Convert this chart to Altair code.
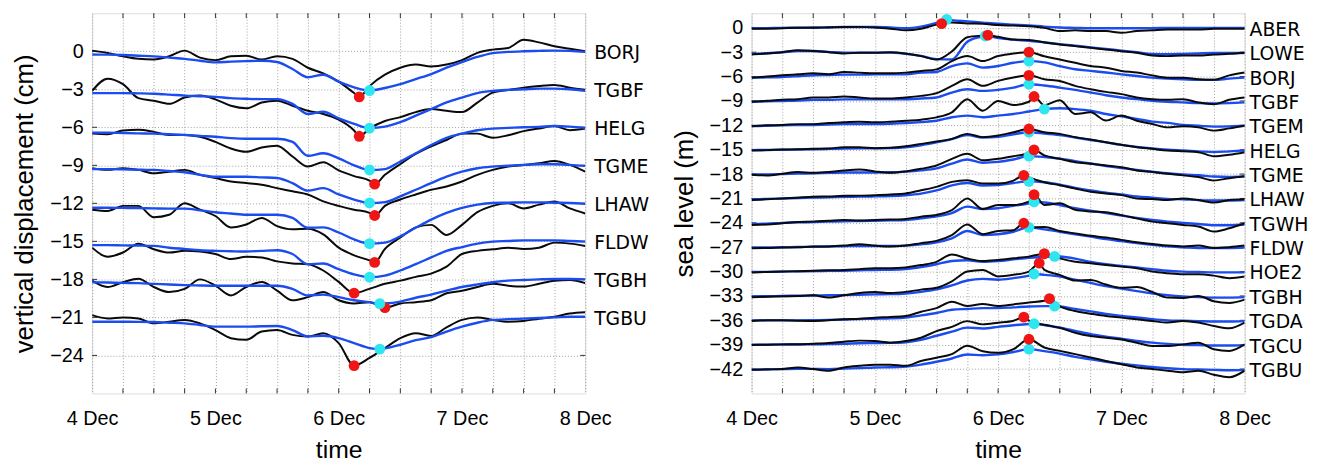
import altair as alt
import pandas as pd

# sample times (hours after 4 Dec 00:00)
HOURS = list(range(0, 97, 3))
X_GRID_DAYS = [i / 4 for i in range(17)]

# ---------------- left panel: vertical displacement (cm) ----------------
L_STATIONS = ["BORJ", "TGBF", "HELG", "TGME", "LHAW", "FLDW", "TGBH", "TGBU"]
L_OBS = {
    "BORJ": [0.05, -0.13, -0.4, -0.6, -0.65, -0.4, 0.05, -0.5, -0.7, -0.4, -0.35, -0.65, -0.4, -0.6, -1.3, -1.75, -2.4, -3.3, -2.75, -1.85, -1.3, -1.05, -1.2, -1.05, -0.7, -0.13, 0.13, 0.26, 0.9, 0.7, 0.4, 0.2, 0.0],
    "TGBF": [-0.13, 0.83, 0.4, -0.7, -0.9, -1.15, -0.65, -0.5, -0.8, -1.3, -1.5, -1.05, -0.9, -1.3, -1.7, -1.95, -2.4, -3.25, -3.1, -2.5, -2.2, -1.8, -1.55, -1.7, -1.8, -1.05, -0.26, -0.05, 0.13, 0.26, 0.34, 0.13, -0.05],
    "HELG": [-0.5, -0.55, -0.25, -0.2, -0.36, -0.6, -0.6, -0.75, -1.15, -1.67, -1.93, -1.6, -1.45, -2.3, -3.1, -2.75, -3.4, -3.85, -4.2, -3.75, -2.9, -2.1, -1.5, -1.0, -0.5, -0.5, -0.83, -0.63, -0.3, -0.1, 0.1, -0.23, -0.1],
    "TGME": [-0.23, -0.36, -0.23, -0.36, -0.63, -0.5, -0.36, -0.75, -1.0, -1.28, -1.4, -1.54, -1.8, -2.05, -2.3, -2.84, -3.2, -3.5, -3.75, -3.2, -2.7, -2.3, -1.93, -1.67, -1.28, -0.75, -0.36, -0.1, 0.03, 0.16, 0.34, 0.03, -0.5],
    "LHAW": [-0.5, -0.6, -0.2, -0.2, -1.1, -0.9, 0.0, -0.5, -1.0, -1.9, -1.67, -1.15, -1.8, -2.05, -2.0, -2.45, -3.5, -4.1, -4.5, -3.6, -2.7, -1.9, -1.7, -2.5, -1.7, -0.7, -0.2, 0.0, -0.4, -0.1, 0.15, -0.4, -0.8],
    "FLDW": [-0.5, -1.22, -0.88, -0.18, -0.62, -0.88, -0.75, -0.8, -1.0, -1.4, -1.22, -1.27, -1.58, -1.74, -1.8, -2.3, -3.2, -4.0, -3.75, -3.35, -3.1, -2.8, -2.55, -2.0, -1.0, -0.75, -0.63, -0.5, -0.6, -0.5, -0.1, -0.18, -0.36],
    "TGBH": [-0.1, -0.6, -0.23, 0.05, -0.6, -1.0, -0.75, 0.0, -0.5, -1.27, -0.6, -0.2, -0.88, -1.65, -1.4, -1.0, -1.65, -1.9, -1.8, -2.1, -1.9, -1.8, -1.65, -1.1, -0.9, -0.6, -0.35, -0.5, -0.57, -0.35, -0.1, -0.05, -0.3],
    "TGBU": [0.18, -0.08, 0.0, -0.08, -0.47, -0.34, -0.2, -0.47, -1.0, -1.64, -1.77, -1.12, -1.0, -1.38, -1.5, -1.25, -2.03, -3.7, -3.2, -2.42, -1.64, -1.25, -1.46, -0.78, -0.2, 0.0, -0.2, -0.34, -0.28, -0.1, 0.05, 0.3, 0.4],
}
L_MOD = {
    "BORJ": [-0.26, -0.27, -0.3, -0.35, -0.4, -0.5, -0.6, -0.75, -0.88, -0.82, -0.78, -0.75, -0.85, -1.4, -2.05, -1.85, -2.4, -2.85, -3.1, -2.9, -2.6, -2.2, -1.8, -1.3, -0.85, -0.45, -0.15, -0.05, 0.0, 0.03, 0.05, 0.03, -0.05],
    "TGBF": [-0.3, -0.3, -0.3, -0.32, -0.35, -0.42, -0.5, -0.55, -0.6, -0.7, -0.75, -0.78, -0.78, -1.15, -1.95, -1.77, -2.3, -2.73, -3.06, -2.95, -2.6, -2.08, -1.56, -1.04, -0.65, -0.3, -0.13, -0.05, 0.0, 0.05, 0.05, 0.0, -0.13],
    "HELG": [-0.42, -0.42, -0.45, -0.48, -0.5, -0.55, -0.6, -0.68, -0.75, -0.85, -0.9, -0.9, -0.9, -1.15, -2.25, -2.05, -2.45, -3.0, -3.37, -3.3, -2.7, -2.05, -1.4, -0.83, -0.5, -0.23, -0.1, -0.05, 0.0, 0.03, 0.1, 0.05, -0.05],
    "TGME": [-0.3, -0.3, -0.32, -0.35, -0.36, -0.45, -0.55, -0.75, -0.9, -0.9, -0.9, -0.95, -1.0, -1.4, -2.0, -1.8, -2.3, -2.7, -2.97, -2.9, -2.45, -1.93, -1.4, -0.9, -0.5, -0.23, -0.1, -0.03, 0.03, 0.08, 0.08, 0.03, -0.05],
    "LHAW": [-0.35, -0.35, -0.36, -0.38, -0.4, -0.42, -0.42, -0.55, -0.7, -0.8, -0.9, -0.9, -0.9, -1.15, -1.93, -1.9, -2.3, -2.85, -3.18, -3.1, -2.6, -1.93, -1.28, -0.75, -0.36, -0.1, 0.03, 0.05, 0.08, 0.08, 0.05, 0.03, -0.03],
    "FLDW": [-0.3, -0.3, -0.32, -0.33, -0.36, -0.5, -0.6, -0.7, -0.75, -0.78, -0.8, -0.75, -0.7, -1.0, -1.8, -1.75, -2.2, -2.6, -2.83, -2.7, -2.3, -1.8, -1.27, -0.75, -0.45, -0.18, -0.02, 0.03, 0.08, 0.08, 0.08, 0.03, -0.02],
    "TGBH": [-0.23, -0.25, -0.28, -0.3, -0.35, -0.4, -0.45, -0.48, -0.5, -0.5, -0.5, -0.5, -0.5, -0.75, -1.27, -1.2, -1.4, -1.65, -1.8, -1.9, -1.75, -1.45, -1.2, -0.88, -0.6, -0.4, -0.23, -0.1, -0.05, 0.0, 0.03, 0.03, 0.0],
    "TGBU": [-0.34, -0.34, -0.34, -0.35, -0.36, -0.42, -0.47, -0.6, -0.73, -0.73, -0.73, -0.7, -0.68, -1.0, -1.5, -1.45, -1.64, -2.03, -2.42, -2.45, -2.16, -1.8, -1.56, -1.12, -0.73, -0.42, -0.2, -0.14, -0.1, -0.05, 0.0, 0.05, 0.05],
}
L_RED_H = [52, 52, 55, 55, 55, 51, 57, 51]
L_RED_V = [-3.6, -3.71, -4.49, -3.96, -4.66, -4.08, -2.23, -3.8]
L_CYAN_H = [54, 54, 54, 54, 54, 54, 56, 56]
L_CYAN_V = [-3.1, -3.06, -3.37, -2.97, -3.18, -2.83, -1.92, -2.5]
L_YTICKS = [-24, -21, -18, -15, -12, -9, -6, -3, 0]

# ---------------- right panel: sea level (m) ----------------
R_STATIONS = ["ABER", "LOWE", "BORJ", "TGBF", "TGEM", "HELG", "TGME", "LHAW",
              "TGWH", "FLDW", "HOE2", "TGBH", "TGDA", "TGCU", "TGBU"]
R_OBS = {
    "ABER": [-0.12, -0.1, -0.05, 0.0, 0.0, 0.05, 0.1, 0.12, 0.05, -0.1, -0.3, -0.1, 0.4, 0.65, 0.55, 0.5, 0.35, 0.28, 0.2, 0.0, -0.4, -0.3, -0.4, -0.4, -0.6, -0.4, -0.3, -0.2, -0.2, -0.2, -0.12, -0.12, -0.1],
    "LOWE": [-0.27, -0.15, 0.0, 0.25, 0.15, 0.0, -0.15, -0.07, -0.07, 0.0, -0.15, -0.48, -0.9, 0.1, 1.85, 2.05, 1.9, 1.56, 1.5, 1.24, 0.95, 0.75, 0.54, 0.34, 0.13, -0.07, -0.4, -0.48, -0.4, -0.4, -0.27, -0.2, -0.07],
    "BORJ": [-0.13, 0.0, 0.16, 0.28, 0.4, 0.28, 0.57, 0.49, 0.4, 0.4, 0.49, 0.69, 0.89, 1.91, 2.53, 1.91, 2.53, 2.85, 3.01, 2.5, 2.1, 1.7, 1.3, 1.1, 0.7, 0.5, 0.15, -0.13, -0.13, -0.33, -0.4, 0.15, 0.5],
    "TGBF": [-0.1, 0.02, 0.14, 0.22, 0.43, 0.43, 0.55, 0.43, 0.31, 0.31, 0.43, 0.63, 0.96, 1.86, 2.67, 1.86, 2.47, 2.9, 3.16, 2.67, 2.47, 1.86, 1.45, 1.12, 0.84, 0.43, 0.22, 0.14, 0.22, -0.18, -0.39, 0.14, 0.43],
    "TGEM": [-0.1, 0.0, 0.05, 0.15, 0.15, 0.28, 0.37, 0.45, 0.37, 0.45, 0.57, 0.7, 0.98, 1.6, 3.2, 1.8, 3.0, 2.5, 2.9, 2.5, 3.1, 1.4, 1.6, 0.6, 1.2, 0.57, 0.16, -0.25, -0.12, -0.25, -0.65, -0.37, -0.04],
    "HELG": [-0.09, -0.05, 0.03, 0.05, 0.11, 0.15, 0.31, 0.3, 0.19, 0.25, 0.44, 0.72, 1.0, 1.33, 1.95, 1.55, 1.75, 2.15, 2.55, 2.15, 1.95, 1.55, 1.25, 0.93, 0.6, 0.31, 0.11, -0.09, -0.2, -0.3, -0.8, -0.62, -0.3],
    "TGME": [-0.08, -0.16, 0.04, 0.25, 0.16, 0.25, 0.45, 0.57, 0.33, 0.16, 0.33, 0.65, 1.06, 1.88, 2.5, 1.7, 1.88, 2.2, 2.6, 2.3, 1.88, 1.47, 1.27, 1.06, 0.85, 0.45, 0.25, 0.04, -0.16, -0.37, -0.78, -0.5, -0.25],
    "LHAW": [-0.2, -0.1, 0.0, 0.1, 0.2, 0.25, 0.33, 0.35, 0.41, 0.49, 0.61, 1.0, 1.43, 2.04, 2.24, 1.84, 1.84, 2.2, 2.6, 2.0, 1.63, 1.22, 0.82, 0.61, 0.41, 0.0, -0.08, -0.2, 0.0, -0.2, -0.5, -0.2, -0.1],
    "TGWH": [-0.26, -0.2, -0.05, 0.1, 0.15, 0.25, 0.35, 0.3, 0.35, 0.4, 0.48, 0.76, 0.97, 1.57, 3.0, 1.7, 2.2, 2.2, 2.6, 2.2, 2.4, 1.6, 1.4, 1.3, 0.95, 0.55, 0.15, -0.05, -0.26, -0.46, -1.07, -0.67, -0.05],
    "FLDW": [-0.12, -0.1, -0.04, 0.0, 0.08, 0.1, 0.2, 0.37, 0.2, 0.08, 0.2, 0.5, 0.78, 1.5, 2.8, 1.6, 2.0, 2.1, 2.4, 2.5, 2.0, 1.7, 1.4, 1.2, 0.9, 0.6, 0.4, 0.2, 0.1, 0.2, -0.1, 0.0, 0.2],
    "HOE2": [-0.1, -0.05, 0.0, 0.05, 0.1, 0.15, 0.2, 0.3, 0.4, 0.4, 0.5, 0.8, 1.2, 2.1, 1.6, 1.3, 1.43, 1.63, 1.84, 2.2, 1.63, 1.22, 1.02, 0.82, 0.61, 0.41, 0.0, -0.2, -0.33, -0.33, -0.5, -0.82, -0.61],
    "TGBH": [-0.15, -0.1, -0.05, 0.0, 0.08, -0.2, 0.08, 0.37, 0.5, 0.37, 0.5, 0.78, 1.0, 1.8, 3.0, 3.2, 2.4, 2.6, 3.0, 3.2, 2.6, 1.9, 1.95, 1.4, 1.0, 1.1, 0.5, -0.2, -0.24, 0.0, -0.65, -0.86, -0.45],
    "TGDA": [-0.08, 0.0, 0.0, -0.05, -0.08, 0.0, 0.12, 0.2, 0.33, 0.41, 0.53, 1.06, 1.5, 2.3, 1.75, 2.0, 1.75, 1.96, 2.2, 2.4, 1.75, 1.14, 0.82, 0.53, 0.33, 0.12, -0.08, -0.28, -0.08, -0.28, -0.69, -0.98, -0.28],
    "TGCU": [-0.04, 0.0, 0.04, 0.06, 0.12, 0.2, 0.37, 0.5, 0.45, 0.25, 0.45, 0.86, 1.67, 2.2, 2.9, 2.5, 2.7, 2.95, 2.95, 2.45, 2.08, 1.47, 1.06, 0.86, 0.65, 0.24, -0.16, -0.16, 0.04, 0.24, -0.57, -0.78, 0.04],
    "TGBU": [-0.1, -0.05, 0.0, 0.2, 0.0, -0.2, 0.2, 0.4, 0.53, 0.53, 0.4, 1.0, 1.4, 1.84, 2.86, 2.2, 2.0, 2.45, 3.67, 2.65, 2.24, 1.84, 1.43, 1.0, 0.6, 0.2, 0.0, -0.2, -0.4, -0.2, -0.7, -1.0, -0.2],
}
R_MOD = {
    "ABER": [-0.05, -0.03, 0.0, 0.02, 0.05, 0.07, 0.1, 0.1, 0.1, 0.05, -0.05, 0.15, 0.6, 0.95, 0.8, 0.65, 0.5, 0.4, 0.3, 0.15, 0.05, 0.0, -0.05, -0.05, -0.05, -0.05, -0.03, -0.02, 0.0, 0.0, 0.0, 0.0, 0.0],
    "LOWE": [-0.2, -0.12, 0.0, 0.15, 0.15, 0.05, -0.05, -0.05, -0.05, -0.05, -0.2, -0.45, -0.85, -0.9, 1.3, 1.95, 1.75, 1.55, 1.4, 1.2, 1.0, 0.8, 0.6, 0.4, 0.2, 0.0, -0.2, -0.25, -0.2, -0.15, -0.1, -0.1, -0.1],
    "BORJ": [-0.13, -0.1, -0.05, 0.05, 0.16, 0.2, 0.25, 0.25, 0.28, 0.28, 0.28, 0.49, 0.57, 1.3, 1.63, 1.1, 1.3, 1.7, 1.91, 1.75, 1.3, 0.9, 0.7, 0.5, 0.28, 0.08, -0.13, -0.25, -0.33, -0.41, -0.41, -0.25, -0.13],
    "TGBF": [-0.1, -0.05, 0.0, 0.05, 0.14, 0.14, 0.2, 0.2, 0.22, 0.22, 0.22, 0.31, 0.43, 1.04, 1.45, 1.24, 1.37, 1.65, 2.06, 1.9, 1.65, 1.37, 1.04, 0.71, 0.43, 0.22, 0.02, -0.1, -0.18, -0.27, -0.31, -0.27, -0.18],
    "TGEM": [-0.1, -0.05, 0.0, 0.03, 0.05, 0.1, 0.15, 0.15, 0.15, 0.2, 0.28, 0.4, 0.57, 1.0, 1.2, 1.0, 1.2, 1.4, 1.7, 2.0, 2.1, 2.0, 1.8, 1.4, 1.1, 0.8, 0.45, 0.3, 0.05, -0.05, -0.15, -0.12, -0.05],
    "HELG": [-0.05, -0.03, 0.0, 0.03, 0.05, 0.1, 0.15, 0.17, 0.17, 0.2, 0.3, 0.55, 0.9, 1.3, 1.8, 1.5, 1.6, 1.9, 2.15, 2.0, 1.8, 1.5, 1.2, 0.9, 0.6, 0.35, 0.15, 0.0, -0.1, -0.2, -0.3, -0.2, -0.1],
    "TGME": [-0.05, -0.03, 0.0, 0.05, 0.1, 0.15, 0.2, 0.2, 0.2, 0.22, 0.3, 0.45, 0.7, 1.3, 1.8, 1.4, 1.5, 1.8, 2.21, 2.1, 1.9, 1.6, 1.3, 1.0, 0.75, 0.5, 0.3, 0.1, -0.05, -0.15, -0.3, -0.35, -0.3],
    "LHAW": [-0.1, -0.05, 0.0, 0.05, 0.1, 0.15, 0.2, 0.22, 0.25, 0.3, 0.4, 0.6, 1.0, 1.6, 1.9, 1.6, 1.65, 1.9, 2.11, 2.0, 1.7, 1.3, 1.0, 0.7, 0.5, 0.25, 0.1, -0.05, -0.1, -0.2, -0.25, -0.25, -0.2],
    "TGWH": [-0.15, -0.1, 0.0, 0.05, 0.1, 0.15, 0.2, 0.22, 0.25, 0.3, 0.35, 0.55, 0.8, 1.2, 2.0, 1.7, 1.8, 2.1, 2.4, 2.5, 2.2, 1.8, 1.5, 1.2, 0.9, 0.6, 0.35, 0.15, 0.0, -0.15, -0.3, -0.3, -0.2],
    "FLDW": [-0.05, -0.03, 0.0, 0.02, 0.05, 0.08, 0.12, 0.15, 0.15, 0.15, 0.2, 0.35, 0.6, 1.1, 2.0, 1.5, 1.6, 1.9, 2.45, 2.2, 1.9, 1.6, 1.3, 1.0, 0.75, 0.5, 0.3, 0.1, 0.0, -0.1, -0.1, -0.1, -0.05],
    "HOE2": [-0.05, -0.03, 0.0, 0.03, 0.05, 0.08, 0.1, 0.15, 0.2, 0.22, 0.3, 0.55, 0.9, 1.3, 1.4, 1.2, 1.3, 1.5, 1.7, 1.8, 1.85, 1.6, 1.2, 0.9, 0.7, 0.5, 0.3, 0.1, 0.0, -0.05, -0.1, -0.1, -0.1],
    "TGBH": [-0.05, -0.03, 0.0, 0.03, 0.05, 0.08, 0.1, 0.15, 0.2, 0.22, 0.3, 0.5, 0.8, 1.3, 1.9, 2.1, 2.0, 2.2, 2.5, 2.6, 2.4, 2.0, 1.6, 1.2, 0.9, 0.6, 0.3, 0.1, -0.05, -0.15, -0.2, -0.2, -0.15],
    "TGDA": [0.0, 0.0, 0.0, 0.0, 0.02, 0.05, 0.1, 0.15, 0.2, 0.25, 0.35, 0.6, 0.9, 1.3, 1.4, 1.5, 1.5, 1.6, 1.7, 1.75, 1.7, 1.4, 1.1, 0.8, 0.55, 0.35, 0.15, 0.0, -0.05, -0.1, -0.15, -0.15, -0.1],
    "TGCU": [0.0, 0.0, 0.02, 0.03, 0.05, 0.08, 0.12, 0.18, 0.2, 0.22, 0.3, 0.6, 1.1, 1.6, 2.1, 2.0, 2.2, 2.4, 2.55, 2.4, 2.1, 1.7, 1.3, 1.0, 0.75, 0.45, 0.25, 0.1, 0.0, -0.05, -0.1, -0.1, -0.05],
    "TGBU": [-0.05, -0.03, 0.0, 0.03, 0.02, 0.0, 0.05, 0.12, 0.2, 0.22, 0.3, 0.55, 0.9, 1.3, 1.8, 1.7, 1.8, 2.1, 2.45, 2.2, 1.9, 1.5, 1.2, 0.9, 0.65, 0.45, 0.25, 0.1, 0.0, -0.05, -0.1, -0.15, -0.1],
}
R_RED_H = [37, 46, 54, 54, 55, 54, 55, 53, 55, 53, 57, 56, 58, 53, 54]
R_RED_V = [0.53, 2.1, 3.01, 3.16, 3.55, 2.55, 2.98, 2.85, 3.48, 2.95, 2.2, 4.04, 2.68, 3.4, 3.67]
R_CYAN_H = [38, 45.5, 54, 54, 57, 54, 54, 54, 55, 54, 59, 55, 59, 55, 54]
R_CYAN_V = [1.05, 2.0, 1.91, 2.06, 2.0, 2.15, 2.21, 2.11, 2.58, 2.45, 1.87, 2.7, 1.74, 2.58, 2.45]
R_YTICKS = [-42, -39, -36, -33, -30, -27, -24, -21, -18, -15, -12, -9, -6, -3, 0]

STEP = 3
W, H = 498, 384
FONT = "Liberation Sans"
LABEL_FONT = "DejaVu Sans"
BLACK, BLUE, RED, CYAN = "#0a0a0a", "#1a4cf0", "#f01515", "#2ee6f0"


def build(stations, obs, mod, rh, rv, ch, cv):
    lines, dots, labels = [], [], []
    for i, s in enumerate(stations):
        off = -STEP * i
        for series, vals, dh, dv in (("obs", obs[s], rh[i], rv[i]),
                                     ("mod", mod[s], ch[i], cv[i])):
            pts = dict(zip(HOURS, vals))
            pts[dh] = dv
            for h in sorted(pts):
                lines.append({"station": s, "series": series,
                              "day": h / 24.0, "value": off + pts[h]})
        dots.append({"station": s, "kind": "red", "day": rh[i] / 24.0, "value": off + rv[i]})
        dots.append({"station": s, "kind": "cyan", "day": ch[i] / 24.0, "value": off + cv[i]})
        labels.append({"station": s, "day": 4.0, "value": off})
    return pd.DataFrame(lines), pd.DataFrame(dots), pd.DataFrame(labels)


def panel(stations, obs, mod, rh, rv, ch, cv, ydom, yticks, ytitle, red_on_top, label_dx):
    lines, dots, labels = build(stations, obs, mod, rh, rv, ch, cv)
    xenc = alt.X("day:Q", scale=alt.Scale(domain=[0, 4], nice=False, zero=False),
                 axis=alt.Axis(values=X_GRID_DAYS,
                               labelExpr="datum.value % 1 == 0 ? (datum.value + 4) + ' Dec' : ''",
                               title="time", grid=True, ticks=False, domain=False,
                               labelFontSize=20, labelPadding=15, labelFont=FONT,
                               titleFontSize=25, titlePadding=10, titleFont=FONT,
                               titleFontWeight="normal", labelColor="#000", titleColor="#000",
                               gridDash=[1, 2], gridColor="#a0a0a0", gridWidth=1,
                               labelFlush=False))
    yenc = alt.Y("value:Q", scale=alt.Scale(domain=ydom, nice=False, zero=False),
                 axis=alt.Axis(values=yticks, title=ytitle, grid=True, ticks=False,
                               domain=False, labelFontSize=20, labelPadding=9,
                               labelFont=FONT, titleFontSize=26, titlePadding=12,
                               titleFont=FONT, titleFontWeight="normal",
                               labelColor="#000", titleColor="#000",
                               gridDash=[1, 2], gridColor="#a0a0a0", gridWidth=1))
    base = alt.Chart(lines).encode(x=xenc, y=yenc, detail="station:N")
    black = base.transform_filter(alt.datum.series == "obs").mark_line(
        color=BLACK, strokeWidth=2.0, clip=True, interpolate="monotone")
    blue = base.transform_filter(alt.datum.series == "mod").mark_line(
        color=BLUE, strokeWidth=2.4, clip=True, interpolate="monotone")
    dbase = alt.Chart(dots).encode(x=xenc, y=yenc)
    red = dbase.transform_filter(alt.datum.kind == "red").mark_circle(
        color=RED, opacity=1, size=120)
    cyan = dbase.transform_filter(alt.datum.kind == "cyan").mark_circle(
        color=CYAN, opacity=1, size=120)
    text = alt.Chart(labels).mark_text(align="left", baseline="middle", dx=label_dx, dy=2,
                                       fontSize=19, font=LABEL_FONT, color="#000").encode(
        x=xenc, y=yenc, text="station:N")
    xt = pd.DataFrame({"day": X_GRID_DAYS[1:-1]})
    yt = pd.DataFrame({"value": yticks})
    tick_top = alt.Chart(xt).mark_rule(color="#333").encode(x=xenc, y=alt.value(0), y2=alt.value(5))
    tick_bot = alt.Chart(xt).mark_rule(color="#333").encode(x=xenc, y=alt.value(H - 5), y2=alt.value(H))
    tick_l = alt.Chart(yt).mark_rule(color="#333").encode(y=yenc, x=alt.value(0), x2=alt.value(5))
    tick_r = alt.Chart(yt).mark_rule(color="#333").encode(y=yenc, x=alt.value(W - 5), x2=alt.value(W))
    if red_on_top:
        layers = [blue, black, cyan, red]
    else:
        layers = [black, blue, red, cyan]
    return alt.layer(tick_top, tick_bot, tick_l, tick_r, *layers, text).properties(width=W, height=H)


left = panel(L_STATIONS, L_OBS, L_MOD, L_RED_H, L_RED_V, L_CYAN_H, L_CYAN_V,
             [-27, 3], L_YTICKS, "vertical displacement (cm)", False, 9)
right = panel(R_STATIONS, R_OBS, R_MOD, R_RED_H, R_RED_V, R_CYAN_H, R_CYAN_V,
              [-45, 1.8], R_YTICKS, "sea level (m)", True, 5)

chart = alt.hconcat(left, right, spacing=20).properties(
    padding={"left": 3, "top": 2, "right": 0, "bottom": 0}
).configure_view(stroke="#333", strokeWidth=1.2).configure(background="white")

chart.save("out.html", embed_options={"renderer": "svg", "actions": False})
